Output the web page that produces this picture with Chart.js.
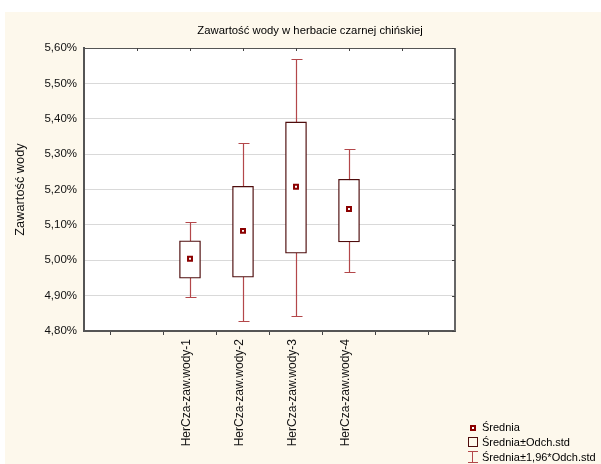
<!DOCTYPE html>
<html>
<head>
<meta charset="utf-8">
<script src="https://cdn.jsdelivr.net/npm/chart.js@4/dist/chart.umd.min.js"></script>
<style>
  html, body { margin: 0; padding: 0; background: #fff; }
  #wrap { width: 601px; height: 464px; }
</style>
</head>
<body>
<div id="wrap"><canvas id="chart" width="601" height="464"></canvas></div>
<script>
"use strict";

const categories = ["HerCza-zaw.wody-1", "HerCza-zaw.wody-2", "HerCza-zaw.wody-3", "HerCza-zaw.wody-4"];
const positions = [2, 3, 4, 5];
const means = [5.004, 5.083, 5.208, 5.145];
const sdLow = [4.949, 4.952, 5.020, 5.052];
const sdHigh = [5.055, 5.209, 5.391, 5.229];
const ciLow = [4.897, 4.828, 4.842, 4.966];
const ciHigh = [5.107, 5.332, 5.569, 5.315];
const yTicks = [4.8, 4.9, 5.0, 5.1, 5.2, 5.3, 5.4, 5.5, 5.6];

const FONT = "'Liberation Sans', Arial, sans-serif";
const CREAM = "#fdf8ec";
const BOX_COLOR = "#4e0c0c";
const WHISKER_COLOR = "#b3474a";
const MEAN_COLOR = "#8b0000";

const fmtPct = v => v.toFixed(2).replace(".", ",") + "%";

// background, frame, whiskers and legend
const decor = {
  id: "decor",
  beforeDraw(chart) {
    const c = chart.ctx;
    const a = chart.chartArea;
    c.save();
    c.fillStyle = "#fff";
    c.fillRect(0, 0, chart.width, chart.height);
    c.fillStyle = CREAM;
    c.fillRect(5, 12, chart.width - 5, chart.height - 12);
    c.fillStyle = "#fff";
    c.fillRect(a.left, a.top, a.right - a.left, a.bottom - a.top);
    c.restore();
  },
  beforeDatasetsDraw(chart) {
    const c = chart.ctx;
    const xs = chart.scales.x, ys = chart.scales.y;
    c.save();
    c.strokeStyle = WHISKER_COLOR;
    c.lineWidth = 1.2;
    positions.forEach((p, i) => {
      const x = Math.round(xs.getPixelForValue(p)) + 0.5;
      const y1 = Math.round(ys.getPixelForValue(ciLow[i])) + 0.5;
      const y2 = Math.round(ys.getPixelForValue(ciHigh[i])) + 0.5;
      c.beginPath();
      c.moveTo(x, y1); c.lineTo(x, y2);
      c.moveTo(x - 5, y1); c.lineTo(x + 6, y1);
      c.moveTo(x - 5, y2); c.lineTo(x + 6, y2);
      c.stroke();
    });
    c.restore();
  },
  afterDraw(chart) {
    const c = chart.ctx;
    const a = chart.chartArea;
    const xs = chart.scales.x, ys = chart.scales.y;
    c.save();
    // top and right frame with inward ticks
    c.strokeStyle = "#555";
    c.lineWidth = 1;
    c.beginPath();
    c.moveTo(a.left, a.top + 0.5); c.lineTo(a.right, a.top + 0.5);
    c.stroke();
    c.lineWidth = 2;
    c.strokeStyle = "#666";
    c.beginPath();
    c.moveTo(a.right, a.top); c.lineTo(a.right, a.bottom);
    c.stroke();
    c.lineWidth = 1;
    c.strokeStyle = "#444";
    c.beginPath();
    for (let v = 1; v <= 6; v++) {
      const x = Math.round(xs.getPixelForValue(v)) + 0.5;
      c.moveTo(x, a.top); c.lineTo(x, a.top + 3);
    }
    yTicks.forEach(v => {
      const y = Math.round(ys.getPixelForValue(v)) + 0.5;
      c.moveTo(a.right - 3, y); c.lineTo(a.right, y);
    });
    c.stroke();

    // title
    c.fillStyle = "#000";
    c.font = "11.3px " + FONT;
    c.textAlign = "center";
    c.textBaseline = "middle";
    c.fillText("Zawartość wody w herbacie czarnej chińskiej", 310, 31);

    // legend
    const lx = 473;
    const tx = 482;
    c.font = "11px " + FONT;
    c.textAlign = "left";
    c.fillStyle = "#000";
    c.fillText("Średnia", tx, 428);
    c.fillText("Średnia±Odch.std", tx, 442.5);
    c.fillText("Średnia±1,96*Odch.std", tx, 457.5);
    // mean marker
    c.strokeStyle = MEAN_COLOR;
    c.lineWidth = 2;
    c.fillStyle = "#fff";
    c.fillRect(lx - 2, 426, 4, 4);
    c.strokeRect(lx - 2, 426, 4, 4);
    // box icon
    c.strokeStyle = BOX_COLOR;
    c.lineWidth = 1;
    c.strokeRect(468.5, 437.5, 9, 9);
    // whisker icon
    c.strokeStyle = WHISKER_COLOR;
    c.beginPath();
    c.moveTo(472.5, 451); c.lineTo(472.5, 463);
    c.moveTo(468, 451.5); c.lineTo(478, 451.5);
    c.moveTo(468, 462.5); c.lineTo(478, 462.5);
    c.stroke();
    c.restore();
  }
};

const ctx = document.getElementById("chart").getContext("2d");
const chart = new Chart(ctx, {
  type: "bar",
  data: {
    datasets: [
      {
        type: "scatter",
        label: "Średnia",
        data: positions.map((p, i) => ({ x: p, y: means[i] })),
        pointStyle: "rect",
        pointRadius: 2.8,
        pointBorderWidth: 2,
        pointBackgroundColor: "#fff",
        pointBorderColor: MEAN_COLOR,
        order: 0
      },
      {
        type: "bar",
        label: "Średnia±Odch.std",
        data: positions.map((p, i) => ({ x: p, y: [sdLow[i], sdHigh[i]] })),
        backgroundColor: "#fff",
        borderColor: BOX_COLOR,
        borderWidth: 1.3,
        borderSkipped: false,
        barThickness: 21,
        order: 1
      }
    ]
  },
  options: {
    responsive: false,
    animation: false,
    layout: { padding: { left: 0, top: 48, right: 146, bottom: 0 } },
    plugins: {
      legend: { display: false },
      tooltip: { enabled: false }
    },
    scales: {
      x: {
        type: "linear",
        min: 0,
        max: 7,
        offset: false,
        afterFit: s => { s.height = 133; },
        afterBuildTicks: s => { s.ticks = [1, 2, 3, 4, 5, 6].map(v => ({ value: v })); },
        grid: { drawOnChartArea: false, drawTicks: true, tickLength: 4, tickColor: "#444" },
        border: { color: "#555", width: 2 },
        ticks: {
          autoSkip: false,
          maxRotation: 90,
          minRotation: 90,
          padding: 4,
          labelOffset: -3,
          color: "#111",
          font: { family: FONT, size: 12 },
          callback: v => {
            const i = positions.indexOf(v);
            return i >= 0 ? categories[i] : "";
          }
        }
      },
      y: {
        min: 4.8,
        max: 5.6,
        afterFit: s => { s.width = 84; },
        afterBuildTicks: s => { s.ticks = yTicks.map(v => ({ value: v })); },
        grid: { color: "#d9d9d9", lineWidth: 1, drawTicks: false },
        border: { color: "#555", width: 2 },
        title: {
          display: true,
          text: "Zawartość wody",
          color: "#111",
          font: { family: FONT, size: 12.8 },
          padding: { top: 13, bottom: 0 }
        },
        ticks: {
          padding: 7,
          color: "#111",
          font: { family: FONT, size: 11.5 },
          callback: v => fmtPct(v)
        }
      }
    }
  },
  plugins: [decor]
});
</script>
</body>
</html>
